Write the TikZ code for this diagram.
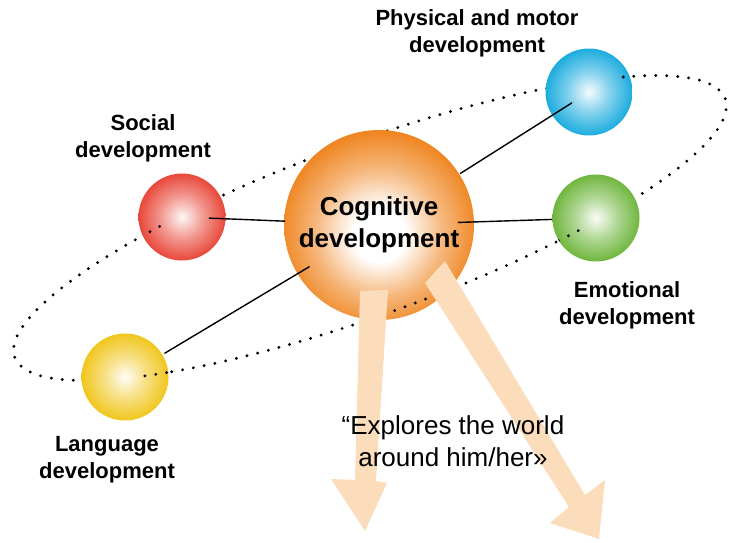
\documentclass[tikz,border=0pt]{standalone}
\usepackage{fontspec}
\setmainfont{Liberation Sans}
\usetikzlibrary{arrows.meta}

\definecolor{cogOrange}{RGB}{239,134,34}
\definecolor{socRed}{RGB}{232,72,58}
\definecolor{physBlue}{RGB}{28,172,222}
\definecolor{emoGreen}{RGB}{112,182,62}
\definecolor{langYellow}{RGB}{240,198,30}
\definecolor{peach}{RGB}{252,221,187}
\colorlet{glow}{cogOrange}

% radial glows, recreated whenever glow changes
\pgfdeclareradialshading[glow]{planetglow}{\pgfpoint{0bp}{0bp}}{%
  color(0bp)=(glow!4!white); color(12bp)=(glow!55!white); color(25bp)=(glow);
  color(50bp)=(glow)}
\pgfdeclareradialshading[glow]{coreglow}{\pgfpoint{0bp}{-3bp}}{%
  color(0bp)=(white); color(7bp)=(white); color(17bp)=(glow!60!white);
  color(26bp)=(glow); color(50bp)=(glow)}

\tikzset{%
  % Specifications for style of nodes:
      planet/.style = {circle, minimum size=43.5pt, inner sep=0pt, shade,
                       shading=planetglow, /utils/exec={\colorlet{glow}{#1}}},
        core/.style = {circle, minimum size=95pt, inner sep=0pt, shade,
                       shading=coreglow, /utils/exec={\colorlet{glow}{cogOrange}},
                       align=center, font=\bfseries\fontsize{13}{16}\selectfont},
    areaText/.style = {align=center, font=\bfseries\fontsize{11}{13.5}\selectfont},
   quoteText/.style = {align=center, font=\fontsize{13}{16}\selectfont},
       orbit/.style = {line width=1.6pt, line cap=round,
                       dash pattern=on 0pt off 5.5pt},
        link/.style = {line width=0.7pt},
    bigArrow/.style = {fill=peach},
                   }

\begin{document}
\begin{tikzpicture}[x=0.5pt, y=-0.5pt]
  \useasboundingbox (0,0) rectangle (729,542);

  % orbit, far side first
  \begin{scope}[shift={(370,228)}, rotate=20]
    \draw[orbit] (0,0) ellipse [x radius=189pt, y radius=43pt];
  \end{scope}

  % Specification of nodes (position, etc.)
  \node (Social)    [planet=socRed]     at (182,217) {};
  \node (Language)  [planet=langYellow] at (125,377) {};
  \node (Physical)  [planet=physBlue]   at (589,92)  {};
  \node (Emotional) [planet=emoGreen]   at (596,218) {};
  \node (Cognitive) [core]              at (379,225) {Cognitive\\development};

  % near side of the orbit, over the circles
  \foreach \planet/\from/\to/\rad in {Social/200/239/21.75pt, Language/100/135/21.75pt,
      Physical/320/350/21.75pt, Emotional/59/85/21.75pt, Cognitive/40/140/47.5pt}{
    \begin{scope}
      \clip (\planet.center) circle [radius=\rad];
      \draw[orbit, shift={(370,228)}, rotate=20]
        plot[domain=\from:\to, samples=40] ({378*cos(\x)}, {86*sin(\x)});
    \end{scope}
  }

  % Specification of lines between nodes specified above
  \draw[link, shorten <=13.5pt, shorten >=47pt]   (Social.center) -- (Cognitive.center);
  \draw[link, shorten <=23pt,   shorten >=40.5pt] (Language.center) -- (Cognitive.center);
  \draw[link, shorten <=48pt,   shorten >=10pt]   (Cognitive.center) -- (Physical.center);
  \draw[link, shorten <=39.5pt, shorten >=22pt]   (Cognitive.center) -- (Emotional.center);

  % the two wide arrows
  \fill[bigArrow] (360,291) -- (388,290) -- (376,481) -- (387,483) -- (365,531)
                  -- (331,479) -- (355,480) -- cycle;
  \fill[bigArrow] (425,283) -- (445,261) -- (585,495) -- (605,480) -- (599,539)
                  -- (550,523) -- (569,507) -- cycle;

  % texts
  \node (SocialText)    [areaText] at (143,138) {Social\\development};
  \node (PhysicalText)  [areaText] at (477,33)  {Physical and motor\\development};
  \node (EmotionalText) [areaText] at (627,305) {Emotional\\development};
  \node (LanguageText)  [areaText] at (107,460) {Language\\development};
  \node (ExploresText)  [quoteText] at (453,441) {“Explores the world\\around him/her»};
\end{tikzpicture}
\end{document}
